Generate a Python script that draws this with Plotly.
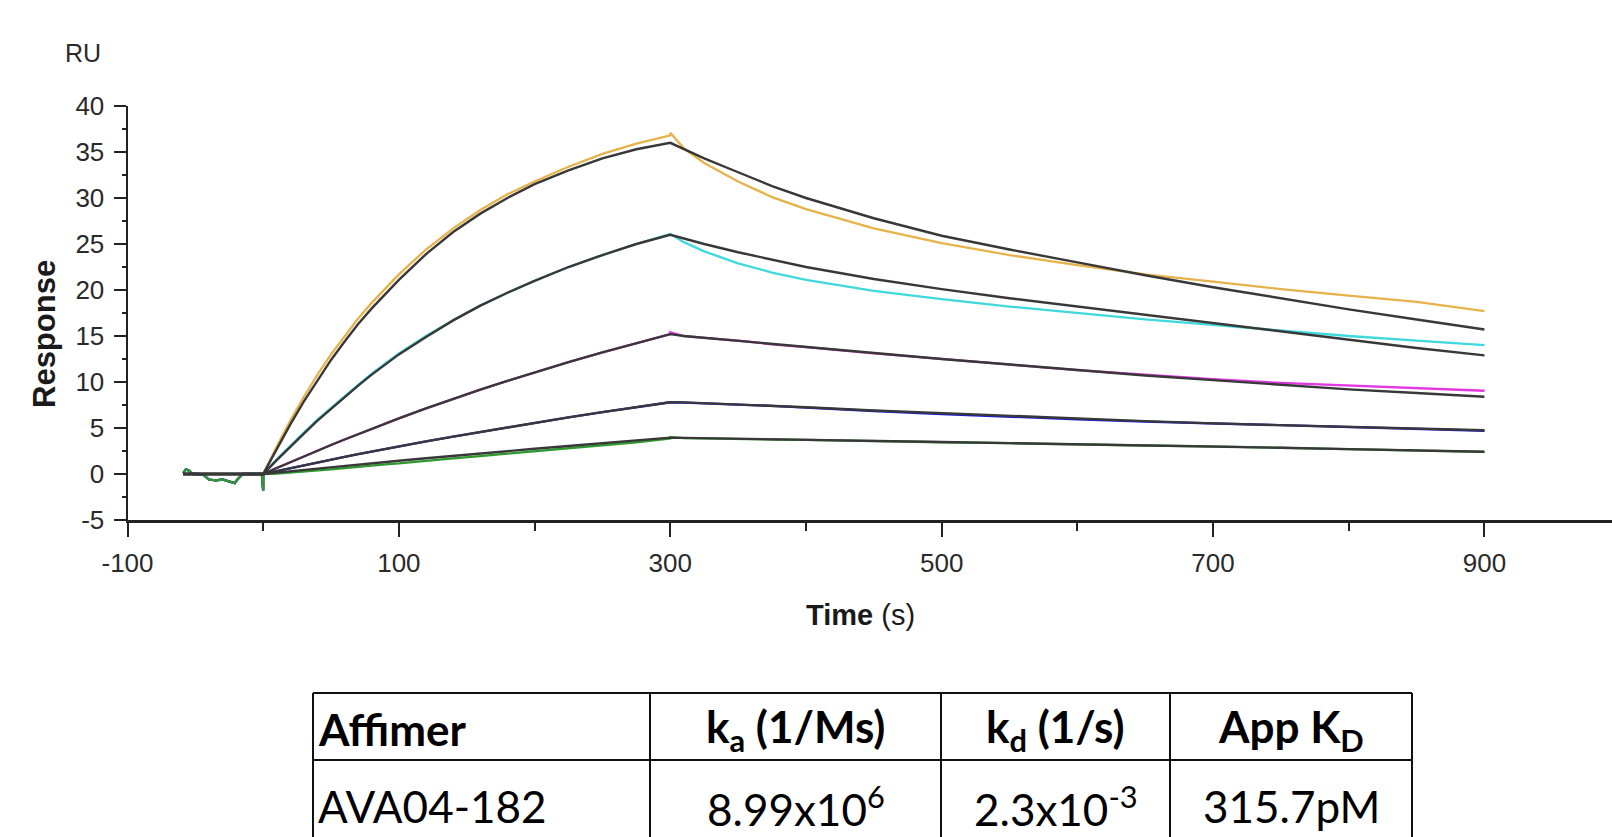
import plotly.graph_objects as go

W, H = 1612, 837

# ---------------- data ----------------
t_base = [-59, -57, -55, -52, -48, -44, -40, -35, -30, -25, -21, -19, -15, -10, -5, -1, 0]
base_vals = [0.1, 0.5, 0.4, 0.0, 0.0, -0.1, -0.6, -0.7, -0.6, -0.8, -1.0, -0.6, 0.0, 0.0, 0.0, 0.0, -1.8]
t_base_fit = [-59, 0]
base_fit = [0.0, 0.0]

t_assoc = [0, 10, 20, 30, 40, 50, 60, 70, 80, 90, 100, 120, 140, 160, 180, 200, 225, 250, 275, 300]
t_dissoc = [300, 310, 325, 350, 375, 400, 450, 500, 550, 600, 650, 700, 750, 800, 850, 900]

# highest concentration (orange)
orange_assoc = [0, 3.0, 5.8, 8.4, 10.8, 13.0, 15.0, 16.9, 18.6, 20.2, 21.7, 24.4, 26.7, 28.7, 30.4, 31.8, 33.4, 34.8, 35.9, 36.8]
orange_dissoc = [37.1, 35.4, 33.8, 31.8, 30.1, 28.8, 26.7, 25.1, 23.8, 22.7, 21.7, 20.9, 20.1, 19.4, 18.7, 17.7]
orange_fit_assoc = [0, 2.7, 5.4, 7.9, 10.2, 12.4, 14.4, 16.3, 18.0, 19.6, 21.1, 23.9, 26.3, 28.3, 30.0, 31.5, 33.0, 34.3, 35.3, 36.0]
orange_fit_dissoc = [36.0, 35.3, 34.3, 32.8, 31.3, 30.0, 27.8, 25.9, 24.4, 23.0, 21.6, 20.3, 19.1, 17.9, 16.8, 15.7]

# cyan
cyan_assoc = [0, 1.6, 3.1, 4.5, 5.9, 7.2, 8.5, 9.7, 10.9, 12.0, 13.1, 15.0, 16.7, 18.3, 19.7, 21.0, 22.5, 23.8, 25.0, 26.1]
cyan_dissoc = [26.1, 25.2, 24.2, 22.9, 21.9, 21.1, 19.9, 19.0, 18.2, 17.5, 16.8, 16.2, 15.6, 15.0, 14.5, 14.0]
cyan_fit_assoc = [0, 1.5, 3.0, 4.4, 5.8, 7.1, 8.4, 9.6, 10.8, 11.9, 13.0, 14.9, 16.7, 18.3, 19.7, 21.0, 22.5, 23.8, 25.0, 26.0]
cyan_fit_dissoc = [26.0, 25.6, 25.0, 24.1, 23.3, 22.5, 21.2, 20.1, 19.1, 18.2, 17.3, 16.4, 15.5, 14.6, 13.7, 12.9]

# magenta
magenta_assoc = [0, 0.65, 1.29, 1.92, 2.54, 3.15, 3.75, 4.34, 4.92, 5.49, 6.05, 7.14, 8.18, 9.17, 10.13, 11.05, 12.16, 13.22, 14.23, 15.2]
magenta_dissoc = [15.4, 15.0, 14.8, 14.5, 14.1, 13.8, 13.1, 12.5, 11.9, 11.3, 10.8, 10.3, 9.9, 9.6, 9.3, 9.05]
magenta_fit_assoc = [0, 0.65, 1.29, 1.92, 2.54, 3.15, 3.75, 4.34, 4.92, 5.49, 6.05, 7.14, 8.18, 9.17, 10.13, 11.05, 12.16, 13.22, 14.23, 15.2]
magenta_fit_dissoc = [15.2, 15.0, 14.8, 14.5, 14.1, 13.8, 13.1, 12.5, 11.9, 11.3, 10.7, 10.2, 9.7, 9.2, 8.8, 8.4]

# blue
blue_assoc = [0, 0.32, 0.64, 0.95, 1.26, 1.56, 1.86, 2.16, 2.45, 2.72, 3.0, 3.55, 4.07, 4.58, 5.08, 5.57, 6.16, 6.73, 7.28, 7.8]
blue_dissoc = [7.8, 7.75, 7.7, 7.55, 7.4, 7.2, 6.85, 6.5, 6.2, 5.95, 5.7, 5.5, 5.3, 5.1, 4.9, 4.7]
blue_fit_assoc = [0, 0.32, 0.64, 0.95, 1.26, 1.56, 1.86, 2.16, 2.45, 2.72, 3.0, 3.55, 4.07, 4.58, 5.08, 5.57, 6.16, 6.73, 7.28, 7.8]
blue_fit_dissoc = [7.8, 7.78, 7.7, 7.55, 7.4, 7.25, 6.9, 6.6, 6.3, 6.0, 5.75, 5.5, 5.3, 5.1, 4.9, 4.75]

# green (lowest concentration)
green_assoc = [0, 0.05, 0.15, 0.25, 0.4, 0.5, 0.65, 0.8, 0.9, 1.05, 1.15, 1.45, 1.7, 1.95, 2.2, 2.45, 2.8, 3.1, 3.45, 3.85]
green_dissoc = [4.0, 3.9, 3.85, 3.8, 3.75, 3.7, 3.55, 3.45, 3.35, 3.2, 3.1, 3.0, 2.85, 2.7, 2.55, 2.4]
green_fit_assoc = [0, 0.15, 0.3, 0.45, 0.6, 0.74, 0.88, 1.02, 1.16, 1.3, 1.44, 1.71, 1.98, 2.24, 2.49, 2.74, 3.04, 3.34, 3.64, 3.95]
green_fit_dissoc = [3.95, 3.93, 3.9, 3.85, 3.78, 3.72, 3.6, 3.48, 3.36, 3.25, 3.14, 3.0, 2.85, 2.7, 2.55, 2.42]

series_colors = ["#E6B24A", "#3FD9DD", "#E437E4", "#1A1AE0", "#2E9A2E"]
fit_color = "#383838"

x_ticks = [-100, 100, 300, 500, 700, 900]
y_ticks = [-5, 0, 5, 10, 15, 20, 25, 30, 35, 40]

table_header = ["<b>Affimer</b>", "<b>k<sub>a</sub> (1/Ms)</b>", "<b>k<sub>d</sub> (1/s)</b>", "<b>App K<sub>D</sub></b>"]
table_row = ["AVA04-182", "8.99x10<sup>6</sup>", "2.3x10<sup>-3</sup>", "315.7pM"]

# ---------------- figure ----------------
def px(x):
    return x / W

def py(y):
    return 1 - y / H

fig = go.Figure()

data_sets = [
    (orange_assoc, orange_dissoc),
    (cyan_assoc, cyan_dissoc),
    (magenta_assoc, magenta_dissoc),
    (blue_assoc, blue_dissoc),
    (green_assoc, green_dissoc),
]
fit_sets = [
    (orange_fit_assoc, orange_fit_dissoc),
    (cyan_fit_assoc, cyan_fit_dissoc),
    (magenta_fit_assoc, magenta_fit_dissoc),
    (blue_fit_assoc, blue_fit_dissoc),
    (green_fit_assoc, green_fit_dissoc),
]

for (a, d), c in zip(data_sets, series_colors):
    fig.add_trace(go.Scatter(
        x=t_base + t_assoc + t_dissoc,
        y=base_vals + a + d,
        mode="lines", line=dict(color=c, width=2.3), hoverinfo="skip"))

for (a, d) in fit_sets:
    fig.add_trace(go.Scatter(
        x=t_base_fit + t_assoc[1:] + t_dissoc[1:],
        y=base_fit + a[1:] + d[1:],
        mode="lines", line=dict(color=fit_color, width=2.4), hoverinfo="skip"))

tick_font = dict(family="Liberation Sans Narrow, Arial Narrow, Liberation Sans, sans-serif", size=26, color="#2a2a2a")

fig.update_layout(
    width=W, height=H,
    margin=dict(l=0, r=0, t=0, b=0, autoexpand=False),
    paper_bgcolor="white", plot_bgcolor="white",
    showlegend=False,
    xaxis=dict(
        domain=[px(127.5), 1.0], range=[-100, 994],
        showgrid=False, zeroline=False,
        showline=True, linecolor="#222", linewidth=3,
        tickmode="array", tickvals=x_ticks, ticktext=[str(v) for v in x_ticks],
        ticks="outside", ticklen=14, tickwidth=2, tickcolor="#222",
        minor=dict(dtick=100, tick0=-100, ticks="outside", ticklen=8, tickwidth=2, tickcolor="#222"),
        tickfont=tick_font, ticklabelstandoff=4, automargin=False,
    ),
    yaxis=dict(
        domain=[py(520), py(106)], range=[-5, 40],
        showgrid=False, zeroline=False,
        showline=True, linecolor="#222", linewidth=2,
        tickmode="array", tickvals=y_ticks, ticktext=[str(v) for v in y_ticks],
        ticks="outside", ticklen=12, tickwidth=2, tickcolor="#222",
        minor=dict(dtick=2.5, tick0=-5, ticks="outside", ticklen=4, tickwidth=2, tickcolor="#222"),
        tickfont=tick_font, ticklabelstandoff=4, automargin=False,
    ),
)

annotations = [
    dict(xref="paper", yref="paper", x=px(83), y=py(53), text="RU", showarrow=False,
         xanchor="center", yanchor="middle",
         font=dict(family="Liberation Sans Narrow, Arial Narrow, Liberation Sans, sans-serif", size=25, color="#2a2a2a")),
    dict(xref="paper", yref="paper", x=px(45), y=py(334), text="<b>Response</b>", textangle=-90, showarrow=False,
         xanchor="center", yanchor="middle",
         font=dict(family="Liberation Sans, Arial, sans-serif", size=31, color="#1a1a1a")),
    dict(xref="paper", yref="paper", x=px(861), y=py(615), text="<b>Time</b> (s)", showarrow=False,
         xanchor="center", yanchor="middle",
         font=dict(family="Liberation Sans Narrow, Arial Narrow, Liberation Sans, sans-serif", size=29, color="#1a1a1a")),
]

# table
col_edges = [313, 650, 941, 1170, 1412]
row_edges = [693, 760, 837]
shapes = []
for ry in row_edges[:2]:
    shapes.append(dict(type="line", xref="paper", yref="paper", x0=px(col_edges[0]), x1=px(col_edges[-1]),
                       y0=py(ry), y1=py(ry), line=dict(color="#111", width=2)))
for cx in col_edges:
    shapes.append(dict(type="line", xref="paper", yref="paper", x0=px(cx), x1=px(cx),
                       y0=py(row_edges[0]), y1=py(row_edges[-1] + 5), line=dict(color="#111", width=2)))

table_font = "Lato, Carlito, Calibri, Open Sans, sans-serif"
row_centers = [729, 806]
for r, cells in enumerate([table_header, table_row]):
    for c, txt in enumerate(cells):
        if c == 0:
            xa, xx = "left", col_edges[0] + 3
        else:
            xa, xx = "center", (col_edges[c] + col_edges[c + 1]) / 2
        annotations.append(dict(xref="paper", yref="paper", x=px(xx), y=py(row_centers[r]), text=txt,
                                showarrow=False, xanchor=xa, yanchor="middle",
                                font=dict(family=table_font, size=44, color="#000")))

fig.update_layout(annotations=annotations, shapes=shapes)
fig.write_html("out.html")
